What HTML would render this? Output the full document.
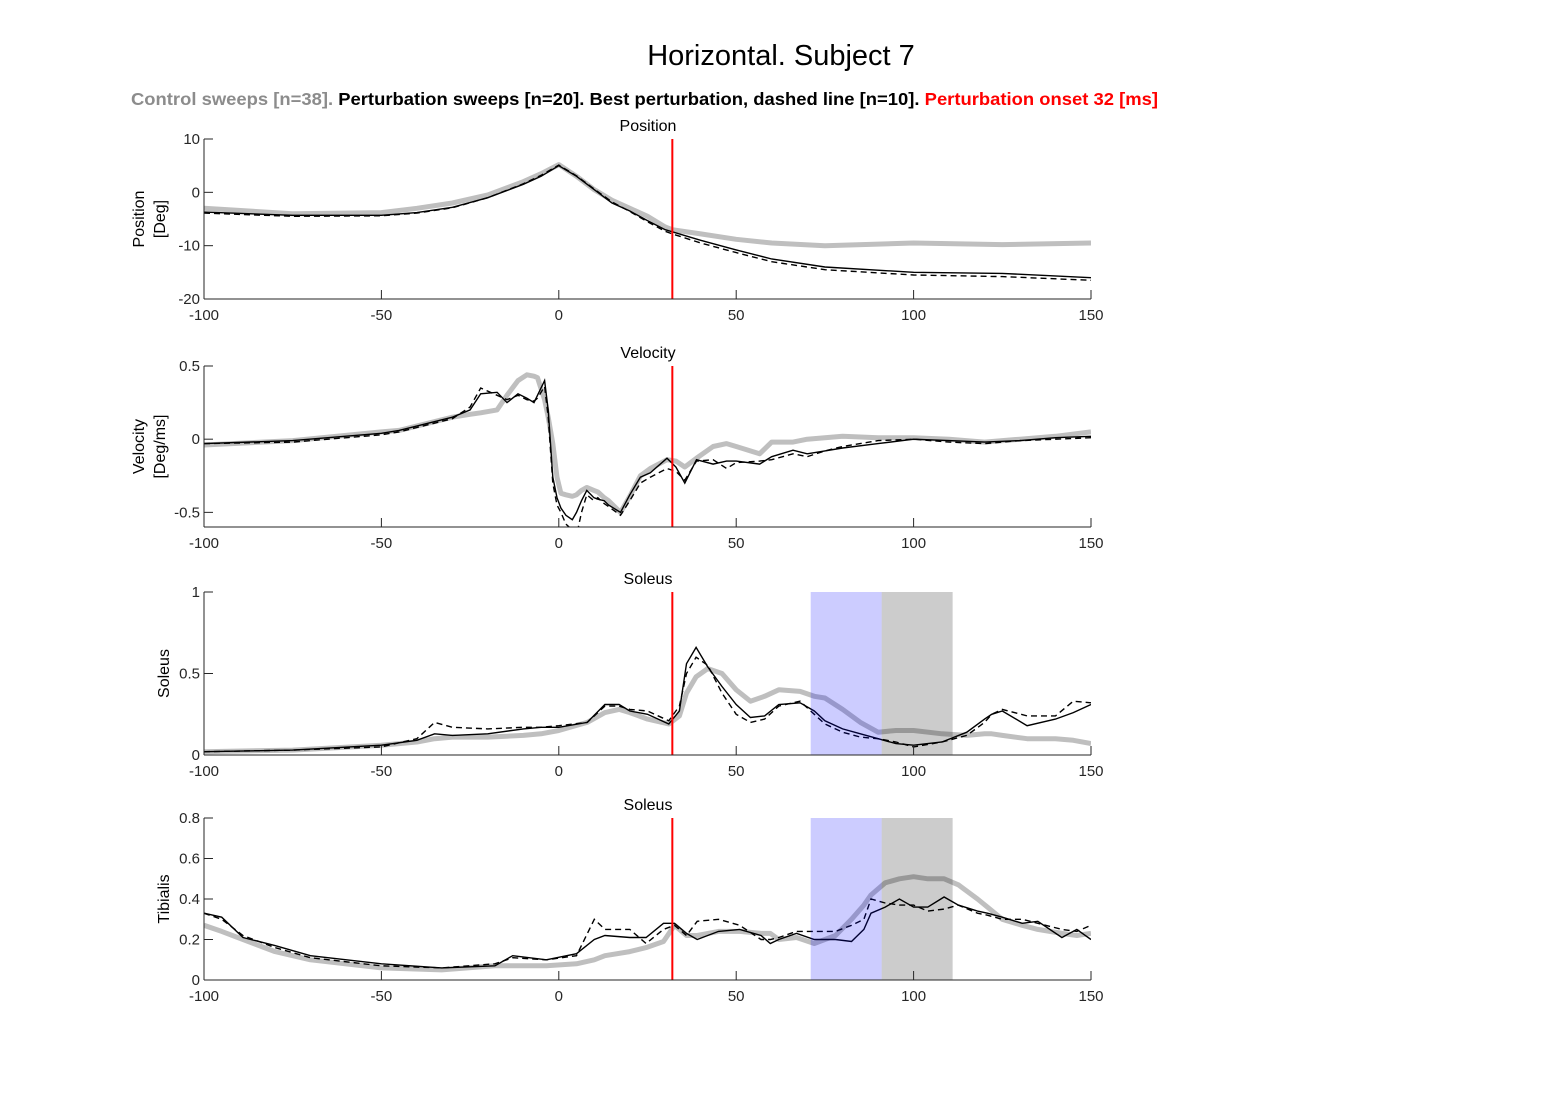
<!DOCTYPE html>
<html><head><meta charset="utf-8"><style>
body{margin:0;background:#fff;width:1563px;height:1094px;overflow:hidden;font-family:"Liberation Sans",Arial,sans-serif}
svg text{font-family:"Liberation Sans",Arial,sans-serif}
</style></head><body>
<svg id="fig" width="1563" height="1094" xmlns="http://www.w3.org/2000/svg">
<text x="781" y="65" font-size="29" text-anchor="middle">Horizontal. Subject 7</text>
<text x="131" y="105" font-size="17.5" font-weight="bold" textLength="1027" lengthAdjust="spacingAndGlyphs"><tspan fill="#8c8c8c">Control sweeps [n=38].</tspan><tspan fill="#000"> Perturbation sweeps [n=20]. Best perturbation, dashed line [n=10]. </tspan><tspan fill="#ff0000"> Perturbation onset 32 [ms]</tspan></text>
</svg>
<script>
// Position panel
const posT=[-100,-75,-50,-40,-30,-20,-10,-5,0,5,10,15,20,25,30,32,40,50,60,75,100,125,150];
const posCtrl=[-3,-4,-3.8,-3,-2,-0.5,2,3.5,5.2,3,0.5,-1.5,-3,-4.5,-6.5,-7,-7.8,-8.8,-9.5,-10,-9.5,-9.8,-9.5];
const posPert=[-3.7,-4.3,-4.3,-3.8,-2.8,-1,1.5,3,5,3,0.5,-2,-3.5,-5.3,-7,-7.4,-9,-10.8,-12.5,-14,-15,-15.2,-16];
const posBest=[-3.9,-4.5,-4.4,-3.9,-2.9,-1,1.6,3.2,5.1,3.1,0.6,-1.8,-3.6,-5.5,-7.3,-7.8,-9.5,-11.3,-13,-14.5,-15.5,-15.8,-16.5];
// Velocity panel
const velT=[-100,-75,-50,-45,-30,-25,-22,-17.4,-14.6,-11.5,-9,-7,-6,-4,-3,-1.7,-0.5,0.6,2,3.8,5,6.4,7.9,9.9,11,12.8,14,17.4,20,23,25.8,30.5,33,35.5,38.8,43.5,47.3,50,56.6,60,66,70,75,80,90,100,110,120,130,140,150];
const velCtrl=[-0.04,-0.01,0.05,0.06,0.15,0.17,0.18,0.2,0.3,0.4,0.44,0.43,0.42,0.27,0.15,-0.03,-0.26,-0.37,-0.38,-0.39,-0.38,-0.35,-0.33,-0.35,-0.36,-0.4,-0.42,-0.5,-0.39,-0.25,-0.2,-0.14,-0.15,-0.19,-0.13,-0.05,-0.03,-0.05,-0.1,-0.02,-0.02,0,0.01,0.02,0.01,0.01,0,-0.02,0,0.02,0.05];
const velPert=[-0.03,-0.01,0.04,0.06,0.15,0.2,0.31,0.32,0.25,0.31,0.28,0.25,0.3,0.4,0.2,-0.26,-0.4,-0.47,-0.52,-0.55,-0.5,-0.42,-0.35,-0.4,-0.41,-0.42,-0.45,-0.5,-0.38,-0.26,-0.23,-0.13,-0.19,-0.3,-0.14,-0.17,-0.15,-0.15,-0.17,-0.12,-0.075,-0.1,-0.08,-0.06,-0.03,0,-0.01,-0.02,-0.01,0.01,0.02];
const velBest=[-0.03,-0.02,0.03,0.05,0.14,0.22,0.35,0.3,0.27,0.3,0.27,0.26,0.28,0.36,0.15,-0.3,-0.45,-0.5,-0.58,-0.62,-0.66,-0.5,-0.38,-0.42,-0.4,-0.44,-0.46,-0.52,-0.42,-0.3,-0.26,-0.2,-0.22,-0.28,-0.15,-0.14,-0.2,-0.16,-0.15,-0.14,-0.1,-0.12,-0.08,-0.05,-0.01,0,-0.02,-0.03,-0.01,0,0.01];
// Soleus panel
const solT=[-100,-75,-50,-40,-35,-30,-20,-10,-5,0,8,13,17,20,25,31,34,36,38.7,42,46,50,54,58,62,68,72,75,80,85,90,95,100,108,115,120,122,125,132,140,145,150];
const solCtrl=[0.02,0.03,0.06,0.08,0.1,0.11,0.11,0.12,0.13,0.15,0.2,0.26,0.28,0.26,0.22,0.19,0.24,0.38,0.48,0.53,0.5,0.4,0.33,0.36,0.4,0.39,0.36,0.35,0.28,0.2,0.14,0.15,0.15,0.13,0.12,0.13,0.13,0.12,0.1,0.1,0.09,0.07];
const solPert=[0.02,0.03,0.06,0.09,0.13,0.12,0.13,0.16,0.17,0.17,0.2,0.31,0.31,0.27,0.25,0.19,0.27,0.56,0.66,0.54,0.42,0.31,0.23,0.24,0.31,0.32,0.27,0.21,0.16,0.13,0.1,0.07,0.06,0.08,0.14,0.22,0.25,0.27,0.18,0.22,0.26,0.31];
const solBest=[0.02,0.03,0.05,0.1,0.2,0.17,0.16,0.17,0.17,0.18,0.2,0.3,0.3,0.28,0.27,0.21,0.3,0.5,0.6,0.55,0.38,0.25,0.2,0.22,0.3,0.33,0.25,0.19,0.14,0.11,0.1,0.08,0.05,0.08,0.12,0.2,0.25,0.28,0.24,0.24,0.33,0.32];
// Tibialis panel
const tibT=[-100,-95,-89,-80,-70,-50,-33,-18,-13,-3.5,5,10,13,20,24.6,29.5,32.6,36,39,45,51,57,59.6,62,67,72,78,82.5,86,88,92,96,100,104,108.6,112.6,118,120.8,125,130.6,135,141.8,146,150];
const tibCtrl=[0.27,0.24,0.2,0.14,0.1,0.06,0.05,0.07,0.07,0.07,0.08,0.1,0.12,0.14,0.16,0.19,0.27,0.22,0.22,0.24,0.24,0.23,0.23,0.2,0.21,0.18,0.22,0.3,0.37,0.42,0.48,0.5,0.51,0.5,0.5,0.47,0.4,0.36,0.3,0.27,0.25,0.23,0.22,0.23];
const tibPert=[0.33,0.31,0.21,0.17,0.12,0.08,0.06,0.07,0.12,0.1,0.13,0.2,0.22,0.21,0.21,0.28,0.28,0.23,0.2,0.24,0.25,0.22,0.18,0.2,0.23,0.2,0.2,0.19,0.25,0.33,0.36,0.4,0.36,0.36,0.41,0.37,0.34,0.33,0.31,0.28,0.29,0.21,0.25,0.2];
const tibBest=[0.33,0.3,0.22,0.16,0.11,0.07,0.06,0.08,0.11,0.1,0.12,0.3,0.25,0.25,0.18,0.25,0.27,0.22,0.29,0.3,0.27,0.2,0.2,0.21,0.24,0.24,0.24,0.27,0.3,0.4,0.38,0.37,0.37,0.34,0.35,0.37,0.33,0.32,0.3,0.3,0.28,0.25,0.24,0.27];

const xTicks=[-100,-50,0,50,100,150];
const onset=32;
const svg=document.getElementById('fig');
const NS='http://www.w3.org/2000/svg';
const X0=204,X1=1091,XMIN=-100,XMAX=150;
function xs(v){return X0+(v-XMIN)/(XMAX-XMIN)*(X1-X0);}
function mk(tag,attrs,parent){const e=document.createElementNS(NS,tag);for(const k in attrs)e.setAttribute(k,attrs[k]);(parent||svg).appendChild(e);return e;}

const panels=[
 {key:'position',title:'Position',ylab:['Position','[Deg]'],top:139,bot:299,ymin:-20,ymax:10,yt:[-20,-10,0,10],t:posT,c:posCtrl,p:posPert,b:posBest,shade:false},
 {key:'velocity',title:'Velocity',ylab:['Velocity','[Deg/ms]'],top:366,bot:527,ymin:-0.6,ymax:0.5,yt:[-0.5,0,0.5],t:velT,c:velCtrl,p:velPert,b:velBest,shade:false},
 {key:'soleus',title:'Soleus',ylab:['Soleus'],top:592,bot:755,ymin:0,ymax:1,yt:[0,0.5,1],t:solT,c:solCtrl,p:solPert,b:solBest,shade:true},
 {key:'tibialis',title:'Soleus',ylab:['Tibialis'],top:818,bot:980,ymin:0,ymax:0.8,yt:[0,0.2,0.4,0.6,0.8],t:tibT,c:tibCtrl,p:tibPert,b:tibBest,shade:true}
];
panels.forEach(P=>{
 const g=mk('g',{});
 
 
 const ys=v=>P.bot-(v-P.ymin)/(P.ymax-P.ymin)*(P.bot-P.top);
 const clipId='clip-'+P.key;
 const cp=mk('clipPath',{id:clipId},g);mk('rect',{x:X0,y:P.top,width:X1-X0,height:P.bot-P.top},cp);
 const pts=(arr)=>P.t.map((t,i)=>xs(t).toFixed(1)+','+ys(arr[i]).toFixed(1)).join(' ');
 const c=mk('polyline',{points:pts(P.c),fill:'none',stroke:'#bfbfbf','stroke-width':5,'stroke-linejoin':'round','clip-path':'url(#'+clipId+')'},g);
 
 
 const pl=mk('polyline',{points:pts(P.p),fill:'none',stroke:'#000','stroke-width':1.4,'clip-path':'url(#'+clipId+')'},g);
 
 
 const bl=mk('polyline',{points:pts(P.b),fill:'none',stroke:'#000','stroke-width':1.4,'stroke-dasharray':'6,4','clip-path':'url(#'+clipId+')'},g);
 
 
 if(P.shade){
  const s1=mk('rect',{x:xs(71),y:P.top,width:xs(91)-xs(71),height:P.bot-P.top,fill:'#0000ff','fill-opacity':0.2},g);
  
  
  const s2=mk('rect',{x:xs(91),y:P.top,width:xs(111)-xs(91),height:P.bot-P.top,fill:'#000','fill-opacity':0.2},g);
  
  
 }
 const on=mk('line',{x1:xs(onset),x2:xs(onset),y1:P.top,y2:P.bot,stroke:'#ff0000','stroke-width':2},g);
 
 
 mk('line',{x1:X0,x2:X1,y1:P.bot,y2:P.bot,stroke:'#262626','stroke-width':1},g);
 mk('line',{x1:X0,x2:X0,y1:P.top,y2:P.bot,stroke:'#262626','stroke-width':1},g);
 xTicks.forEach(v=>{
  mk('line',{x1:xs(v),x2:xs(v),y1:P.bot,y2:P.bot-9,stroke:'#262626'},g);
  const t=mk('text',{x:xs(v),y:P.bot+21,'font-size':15,'text-anchor':'middle',fill:'#262626'},g);t.textContent=v;
  
  
 });
 P.yt.forEach(v=>{
  mk('line',{x1:X0,x2:X0+9,y1:ys(v),y2:ys(v),stroke:'#262626'},g);
  const t=mk('text',{x:X0-4,y:ys(v)+5,'font-size':15,'text-anchor':'end',fill:'#262626'},g);t.textContent=v;
  
  
 });
 const tt=mk('text',{x:648,y:P.top-8,'font-size':16,'text-anchor':'middle'},g);tt.textContent=P.title;
 
 
 const cy=(P.top+P.bot)/2;
 P.ylab.forEach((l,i)=>{
  const xx=P.ylab.length===1?169:(144+i*21);
  const t=mk('text',{x:xx,y:cy,'font-size':16,'text-anchor':'middle',transform:'rotate(-90 '+xx+' '+cy+')'},g);t.textContent=l;
  
  
 });
});
</script>
</body></html>
